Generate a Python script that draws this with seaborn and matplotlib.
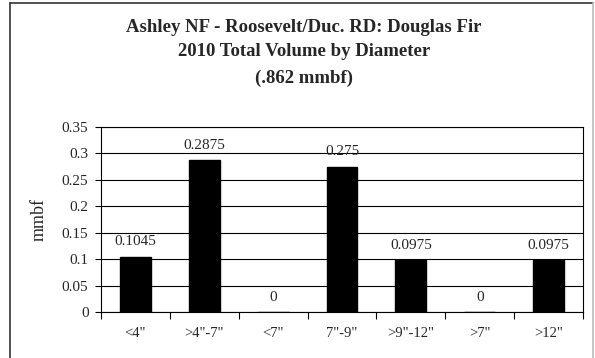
import matplotlib
matplotlib.use("Agg")
import matplotlib.pyplot as plt
import seaborn as sns
from matplotlib.lines import Line2D

# ----------------------------
# Data
# ----------------------------
diameters = ['<4"', '>4"-7"', '<7"', '7"-9"', '>9"-12"', '>7"', '>12"']
volume = [0.1045, 0.2875, 0, 0.275, 0.0975, 0, 0.0975]
title_lines = [
    "Ashley NF - Roosevelt/Duc. RD: Douglas Fir",
    "2010 Total Volume by Diameter",
    "(.862 mmbf)",
]
y_ticks = [0, 0.05, 0.1, 0.15, 0.2, 0.25, 0.3, 0.35]

sns.set_style("white")
plt.rcParams["font.family"] = ["Liberation Serif", "DejaVu Serif"]

fig = plt.figure(figsize=(5.95, 3.58), dpi=100)
ax = fig.add_axes([101 / 595, 46 / 358, 482 / 595, 185 / 358])

sns.barplot(x=diameters, y=volume, color="black", saturation=1,
            width=0.45, edgecolor="black", ax=ax)

ax.bar_label(ax.containers[0], fmt="%g", padding=6, fontsize=11)

# gridlines + axis range
ax.set_ylim(0, 0.35)
ax.set_yticks(y_ticks)
ax.set_yticklabels([f"{t:g}" for t in y_ticks], fontsize=11)
ax.yaxis.grid(True, color="black", linewidth=0.8)
ax.set_axisbelow(True)
ax.tick_params(axis="y", direction="out", length=4, width=0.8,
               color="black", left=True, pad=5)

ax.set_xlim(-0.5, len(diameters) - 0.5)
ax.tick_params(axis="x", which="major", length=0, pad=11, labelsize=10.5)
ax.set_xticks([i - 0.5 for i in range(len(diameters) + 1)], minor=True)
ax.tick_params(axis="x", which="minor", direction="out", length=5,
               width=0.8, color="black", bottom=True)

for s in ax.spines.values():
    s.set_visible(True)
    s.set_color("black")
    s.set_linewidth(0.8)

ax.set_xlabel("")
ax.set_ylabel("mmbf", fontsize=13, labelpad=10)

# title
for line, ypix in zip(title_lines, [27, 52, 78]):
    fig.text(304 / 595, 1 - ypix / 358, line, ha="center", va="center",
             fontsize=13.5, fontweight="bold")

# outer chart frame
fig.add_artist(Line2D([10 / 595, 10 / 595], [0, 1 - 3 / 358],
                      color="#333333", linewidth=1.2))
fig.add_artist(Line2D([10 / 595, 593 / 595], [1 - 3 / 358, 1 - 3 / 358],
                      color="#333333", linewidth=1.2))
fig.add_artist(Line2D([593 / 595, 593 / 595], [0, 1 - 3 / 358],
                      color="#bbbbbb", linewidth=1.2))

plt.savefig("out.png", dpi=100)
